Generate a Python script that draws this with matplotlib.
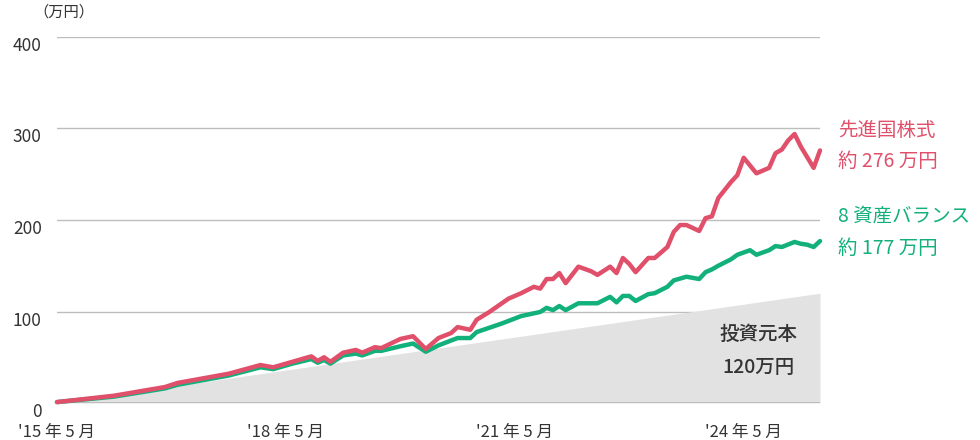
import matplotlib.pyplot as plt

plt.rcParams['font.family'] = ['Noto Sans CJK JP', 'DejaVu Sans']

# months since 2015-05 and values (万円)
red_months = [0, 9, 17, 19, 27, 32, 34, 37, 40, 41, 42, 43, 45, 47, 48, 50, 51, 54, 56, 58,
              60, 62, 63, 65, 66, 68, 71, 73, 75, 76, 77, 78, 79, 80, 82, 84, 85, 87, 88, 89,
              90, 91, 93, 94, 96, 97, 98, 99, 101, 102, 103, 104, 106, 107, 108, 110, 112, 113,
              114, 115, 116, 117, 119, 120]
red_values = [1, 8, 17.5, 22, 32, 41.5, 39, 45, 51, 46, 50, 45, 55, 58, 55, 61, 60, 70, 73, 59,
              71, 76.5, 83, 80, 91, 99.5, 114, 120, 127, 125, 135.5, 135.5, 142, 131, 149, 144, 140, 149, 142, 158.5,
              152, 143, 158.5, 158.5, 170.5, 187, 194.5, 194.5, 188, 202, 204, 224, 241.5, 249, 268, 251, 257, 273,
              277, 287, 294, 280, 257, 276]

green_months = [0, 9, 17, 19, 27, 32, 34, 37, 40, 41, 42, 43, 45, 47, 48, 50, 51, 54, 56, 58,
                60, 63, 65, 66, 70, 73, 76, 77, 78, 79, 80, 82, 85, 87, 88, 89, 90, 91, 93, 94,
                96, 97, 99, 101, 102, 103, 104, 106, 107, 109, 110, 112, 113, 114, 116, 117, 118,
                119, 120]
green_values = [1, 7, 16, 20, 30, 39, 37, 43, 48, 44, 47, 43, 52, 54, 52, 57, 57, 62, 65, 56,
                63, 71, 71, 77.5, 87, 95, 99.5, 104, 101.5, 106, 101.5, 109, 109, 116, 110, 117,
                117, 111.5, 119, 120, 127, 134, 138, 135.5, 143, 146, 150, 157, 162, 167, 162,
                167, 171.5, 170.5, 176, 174, 173, 170.5, 177]

principal_months = [0, 120]
principal_values = [0, 120]

x_ticks = [0, 36, 72, 108]
x_labels = ["'15 年 5 月", "'18 年 5 月", "'21 年 5 月", "'24 年 5 月"]
y_ticks = [0, 100, 200, 300, 400]

red = '#e0506b'
green = '#12b07a'
text_color = '#333333'

fig = plt.figure(figsize=(9.8, 4.4), dpi=100)
ax = fig.add_axes([57 / 980, 37 / 440, (820 - 57) / 980, (403 - 37) / 440])

ax.fill_between(principal_months, principal_values, 0, color='#e2e2e2', linewidth=0, zorder=1)
for y in y_ticks[1:]:
    ax.axhline(y, color='#bdbdbd', linewidth=1, zorder=0, xmin=-0.003)
ax.axhline(0, color='#b0b0b0', linewidth=1.8, zorder=2)

ax.plot(green_months, green_values, color=green, linewidth=3.2, solid_joinstyle='round',
        solid_capstyle='round', zorder=3, clip_on=False)
ax.plot(red_months, red_values, color=red, linewidth=3.2, solid_joinstyle='round',
        solid_capstyle='round', zorder=4, clip_on=False)

ax.set_xlim(0, 120)
ax.set_ylim(0, 400)
for s in ax.spines.values():
    s.set_visible(False)

ax.set_xticks(x_ticks)
ax.set_xticklabels(x_labels, fontsize=12, color=text_color)
ax.set_yticks(y_ticks)
ax.set_yticklabels([str(v) for v in y_ticks], fontsize=12.5, color=text_color)
ax.tick_params(axis='x', length=0, pad=15)
ax.tick_params(axis='y', length=0, pad=11)
for lab in ax.get_yticklabels():
    lab.set_verticalalignment('top')

fig.text(33 / 980, 1 - 12 / 440, '（万円）', fontsize=11, color=text_color, va='center', ha='left')

fig.text(838 / 980, 1 - 130 / 440, '先進国株式', fontsize=14, color=red, va='center')
fig.text(838 / 980, 1 - 161 / 440, '約 276 万円', fontsize=14, color=red, va='center')
fig.text(838 / 980, 1 - 216 / 440, '8 資産バランス', fontsize=14, color=green, va='center')
fig.text(838 / 980, 1 - 248 / 440, '約 177 万円', fontsize=14, color=green, va='center')

fig.text(758 / 980, 1 - 334 / 440, '投資元本', fontsize=14, color=text_color, va='center',
         ha='center', weight='medium')
fig.text(758 / 980, 1 - 367 / 440, '120万円', fontsize=14, color=text_color, va='center',
         ha='center', weight='medium')

fig.savefig('out.png', dpi=100)
